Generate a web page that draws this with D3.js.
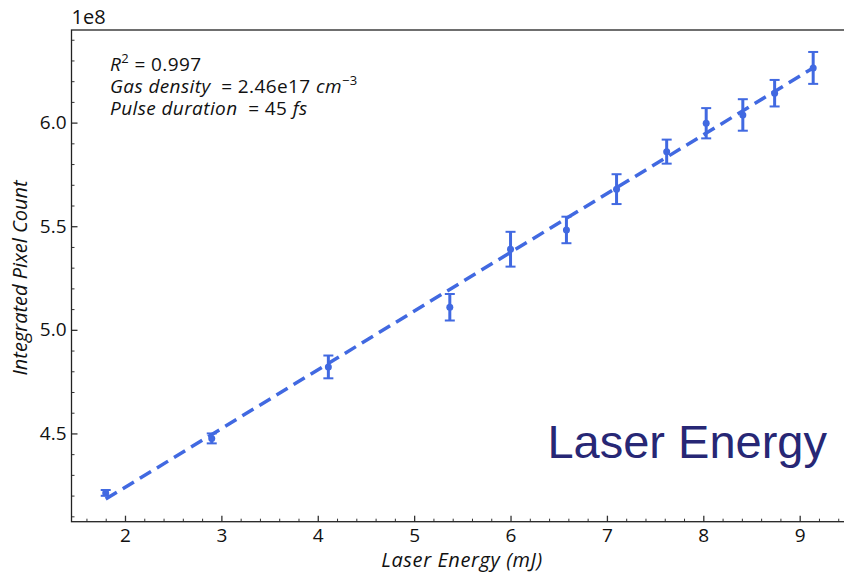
<!DOCTYPE html>
<html>
<head>
<meta charset="utf-8">
<script src="https://cdn.jsdelivr.net/npm/d3@7"></script>
<style>
  body { margin: 0; background: #fff; }
  svg { display: block; }
  .tick text { font-family: "Open Sans", sans-serif; font-size: 19px; fill: #111; }
</style>
</head>
<body>
<div id="chart"></div>
<script>
// data (y in units of 1e8)
const energy = [1.80, 2.90, 4.11, 5.37, 6.00, 6.58, 7.10, 7.62, 8.03, 8.41, 8.74, 9.14];
const pixelCount = [4.213, 4.476, 4.821, 5.109, 5.389, 5.482, 5.679, 5.860, 5.997, 6.037, 6.142, 6.264];
const pixelErr = [0.014, 0.024, 0.055, 0.064, 0.084, 0.064, 0.072, 0.058, 0.073, 0.076, 0.064, 0.077];
// fitted line end points
const fitX = [1.80, 9.14];
const fitY = [4.183, 6.264];
const xTicks = [2, 3, 4, 5, 6, 7, 8, 9];
const yTicks = [4.5, 5.0, 5.5, 6.0];

const W = 844, H = 572;
const box = {left: 71.5, right: 850, top: 30, bottom: 521.7};
const blue = "#4169E1";

const svg = d3.select("#chart").append("svg")
  .attr("width", W).attr("height", H);

const x = d3.scaleLinear().domain([1.445, 9.522]).range([box.left, box.right]);
const y = d3.scaleLinear().domain([4.074, 6.447]).range([box.bottom, box.top]);

// minor ticks
const xMinor = d3.range(1.6, 9.5, 0.2).filter(v => Math.abs(v - Math.round(v)) > 0.01);
const yMinor = d3.range(4.1, 6.45, 0.1).filter(v => Math.abs(v * 2 - Math.round(v * 2)) > 0.01);

svg.append("g")
  .attr("transform", `translate(0,${box.bottom})`)
  .call(d3.axisBottom(x).tickValues(xMinor).tickFormat("").tickSize(-3).tickSizeOuter(0))
  .call(g => g.select(".domain").remove())
  .selectAll("line").attr("stroke", "#333").attr("stroke-width", 1);

svg.append("g")
  .attr("transform", `translate(${box.left},0)`)
  .call(d3.axisLeft(y).tickValues(yMinor).tickFormat("").tickSize(-3).tickSizeOuter(0))
  .call(g => g.select(".domain").remove())
  .selectAll("line").attr("stroke", "#333").attr("stroke-width", 1);

// major ticks
const xAxis = svg.append("g")
  .attr("transform", `translate(0,${box.bottom})`)
  .call(d3.axisBottom(x).tickValues(xTicks).tickFormat(d3.format("d")).tickSize(-6).tickPadding(7).tickSizeOuter(0));
xAxis.select(".domain").remove();
xAxis.selectAll("line").attr("stroke", "#333").attr("stroke-width", 1.3);

const yAxis = svg.append("g")
  .attr("transform", `translate(${box.left},0)`)
  .call(d3.axisLeft(y).tickValues(yTicks).tickFormat(d3.format(".1f")).tickSize(-6).tickPadding(5).tickSizeOuter(0));
yAxis.select(".domain").remove();
yAxis.selectAll("line").attr("stroke", "#333").attr("stroke-width", 1.3);

// frame
svg.append("rect")
  .attr("x", box.left).attr("y", box.top)
  .attr("width", box.right - box.left).attr("height", box.bottom - box.top)
  .attr("fill", "none").attr("stroke", "#222").attr("stroke-width", 1.3);

// offset label
svg.append("text")
  .attr("x", box.left).attr("y", 24)
  .attr("font-family", "Open Sans, sans-serif").attr("font-size", 20).attr("fill", "#111")
  .text("1e8");

// error bars
const pts = energy.map((e, i) => ({x: e, y: pixelCount[i], err: pixelErr[i]}));
const eb = svg.append("g");
eb.selectAll("line.bar").data(pts).enter().append("line")
  .attr("class", "bar")
  .attr("x1", d => x(d.x)).attr("x2", d => x(d.x))
  .attr("y1", d => y(d.y - d.err)).attr("y2", d => y(d.y + d.err))
  .attr("stroke", blue).attr("stroke-width", 3);
[-1, 1].forEach(s => {
  eb.selectAll(null).data(pts).enter().append("line")
    .attr("x1", d => x(d.x) - 5).attr("x2", d => x(d.x) + 5)
    .attr("y1", d => y(d.y + s * d.err)).attr("y2", d => y(d.y + s * d.err))
    .attr("stroke", blue).attr("stroke-width", 2);
});
eb.selectAll("circle").data(pts).enter().append("circle")
  .attr("cx", d => x(d.x)).attr("cy", d => y(d.y)).attr("r", 3.5)
  .attr("fill", blue);

// fit line
svg.append("path")
  .datum(fitX.map((v, i) => [v, fitY[i]]))
  .attr("d", d3.line().x(d => x(d[0])).y(d => y(d[1])))
  .attr("fill", "none").attr("stroke", blue).attr("stroke-width", 3.5)
  .attr("stroke-dasharray", "13,7");

// annotation, one text per line
const noteLine = yy => svg.append("text")
  .attr("x", 110).attr("y", yy)
  .attr("font-family", "Open Sans, sans-serif").attr("font-size", 19).attr("fill", "#111")
  .attr("letter-spacing", 0.4);
const l1 = noteLine(71);
l1.append("tspan").attr("font-style", "italic").text("R");
l1.append("tspan").attr("dy", -8).attr("font-size", 13).text("2");
l1.append("tspan").attr("dy", 8).text(" = 0.997");
const l2 = noteLine(93);
l2.append("tspan").attr("font-style", "italic").text("Gas density");
l2.append("tspan").text("\u00A0\u00A0= 2.46e17 ");
l2.append("tspan").attr("font-style", "italic").text("cm");
l2.append("tspan").attr("dy", -8).attr("font-size", 13).text("\u22123");
const l3 = noteLine(115);
l3.append("tspan").attr("font-style", "italic").text("Pulse duration");
l3.append("tspan").text("\u00A0\u00A0= 45 ");
l3.append("tspan").attr("font-style", "italic").text("fs");

// big label
svg.append("text")
  .attr("x", 827).attr("y", 458).attr("text-anchor", "end")
  .attr("font-family", "Liberation Sans, Arial, sans-serif").attr("font-size", 47)
  .attr("fill", "#272775")
  .text("Laser Energy");

// axis titles
svg.append("text")
  .attr("x", 462).attr("y", 567).attr("text-anchor", "middle")
  .attr("font-family", "Open Sans, sans-serif").attr("font-style", "italic").attr("font-size", 20)
  .attr("letter-spacing", 0.6).attr("fill", "#111")
  .text("Laser Energy (mJ)");

svg.append("text")
  .attr("transform", "translate(27,278) rotate(-90)").attr("text-anchor", "middle")
  .attr("font-family", "Open Sans, sans-serif").attr("font-style", "italic").attr("font-size", 20)
  .attr("fill", "#111")
  .text("Integrated Pixel Count");
</script>
</body>
</html>
